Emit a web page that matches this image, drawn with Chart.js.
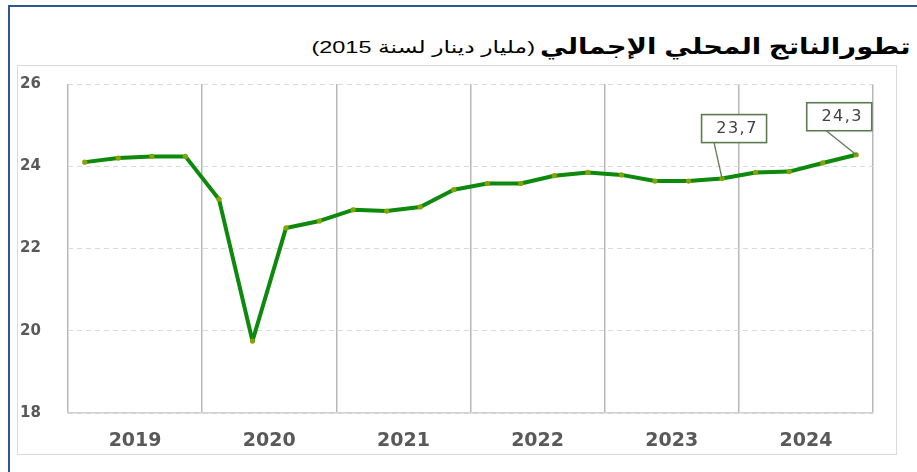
<!DOCTYPE html>
<html><head><meta charset="utf-8">
<script src="https://cdn.jsdelivr.net/npm/chart.js@4.4.1/dist/chart.umd.min.js"></script>
<style>
html,body{margin:0;padding:0;background:#fff;}
#wrap{position:relative;width:917px;height:472px;overflow:hidden;background:#fff;}
#outer{position:absolute;left:8px;top:5px;width:960px;height:520px;border-top:2px solid #2f5596;border-left:2px solid #2f5596;}
#inner{position:absolute;left:17px;top:65px;width:878px;height:388px;border:1.5px solid #dadada;}
.t{position:absolute;direction:rtl;white-space:nowrap;font-family:"Liberation Sans","DejaVu Sans",sans-serif;color:#000;transform-origin:100% 50%;}
#tmain{right:7px;top:32px;font-size:22px;font-weight:bold;line-height:30px;transform:scaleX(1.25);}
#tsub{right:382px;top:35px;font-size:17px;line-height:26px;transform:scaleX(1.38);}
canvas{position:absolute;left:0;top:0;}
</style></head>
<body>
<div id="wrap">
<div id="outer"></div>
<div id="inner"></div>
<div class="t" id="tmain" dir="rtl">تطورالناتج المحلي الإجمالي</div>
<div class="t" id="tsub" dir="rtl">(مليار دينار لسنة 2015)</div>
<canvas id="c" width="917" height="472"></canvas>
</div>
<script>
const years = ['2019','2020','2021','2022','2023','2024'];
const quarters = ['2019T1','2019T2','2019T3','2019T4','2020T1','2020T2','2020T3','2020T4',
 '2021T1','2021T2','2021T3','2021T4','2022T1','2022T2','2022T3','2022T4',
 '2023T1','2023T2','2023T3','2023T4','2024T1','2024T2','2024T3','2024T4'];
const gdp = [24.10,24.20,24.24,24.24,23.20,19.75,22.50,22.67,
 22.94,22.91,23.01,23.43,23.58,23.58,23.77,23.85,
 23.79,23.64,23.64,23.70,23.85,23.87,24.08,24.28];
const yTicks = [18,20,22,24,26];
const labelledPoints = [19,23];

const calloutPlugin = {
  id:'callouts',
  afterDatasetsDraw(chart){
    const ctx = chart.ctx;
    const meta = chart.getDatasetMeta(0);
    const offs = {19:{dx:12,dy:-50,lx:-20}, 23:{dx:-17,dy:-38,lx:-13}};
    labelledPoints.forEach(i=>{
      const p = meta.data[i];
      const o = offs[i];
      const w = 65, h = 28;
      const cx = p.x + o.dx, cy = p.y + o.dy;
      ctx.save();
      ctx.strokeStyle = '#5e7a50';
      ctx.lineWidth = 1.3;
      ctx.beginPath();
      ctx.moveTo(cx + o.lx, cy + h/2);
      ctx.lineTo(p.x, p.y);
      ctx.stroke();
      ctx.fillStyle = '#fff';
      ctx.fillRect(cx - w/2, cy - h/2, w, h);
      ctx.lineWidth = 1.6;
      ctx.strokeRect(cx - w/2, cy - h/2, w, h);
      ctx.fillStyle = '#404040';
      ctx.font = '16px "DejaVu Sans", sans-serif';
      try { ctx.letterSpacing = '1.5px'; } catch(e) {}
      ctx.textAlign = 'center';
      ctx.textBaseline = 'middle';
      ctx.fillText(gdp[i].toFixed(1).replace('.', ','), cx + 3, cy);
      ctx.restore();
    });
  }
};

new Chart(document.getElementById('c'), {
  type:'line',
  data:{
    labels: quarters,
    datasets:[{
      data: gdp,
      borderColor:'#0d890d',
      borderWidth:4,
      borderJoinStyle:'round',
      borderCapStyle:'round',
      pointRadius:2.6,
      pointBackgroundColor:'#86a300',
      pointBorderWidth:0,
      tension:0,
      xAxisID:'x',
      yAxisID:'y'
    }]
  },
  options:{
    responsive:false,
    animation:false,
    devicePixelRatio:1,
    layout:{padding:{left:20,right:44,top:84,bottom:0}},
    plugins:{legend:{display:false}, tooltip:{enabled:false}, title:{display:false}},
    scales:{
      x:{type:'category', labels: quarters, display:false, offset:true},
      xYear:{
        type:'category', labels: years, position:'bottom', offset:true,
        grid:{offset:true, color:'#b8b8b8', lineWidth:1.5, drawTicks:false},
        border:{color:'#d0d0d0', width:1.5},
        ticks:{font:{family:'"DejaVu Sans"', size:19, weight:'bold'}, color:'#595959', padding:17},
        afterFit(s){ s.height = 59; }
      },
      y:{
        min:18, max:26,
        afterBuildTicks(s){ s.ticks = yTicks.map(v=>({value:v})); },
        ticks:{crossAlign:'far', font:{family:'"DejaVu Sans"', size:15, weight:'bold'}, color:'#595959', padding:0},
        grid:{color:'#d9d9d9', lineWidth:1, drawTicks:false},
        border:{display:false, dash:[5,4]},
        afterFit(s){ s.width = 48; }
      }
    }
  },
  plugins:[calloutPlugin]
});
</script>
</body></html>
